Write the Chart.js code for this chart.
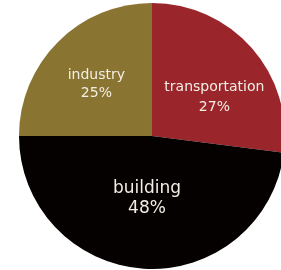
<!DOCTYPE html>
<html>
<head>
<meta charset="utf-8">
<script src="https://cdn.jsdelivr.net/npm/chart.js@4/dist/chart.umd.min.js"></script>
<style>
html,body{margin:0;padding:0;background:#fff;overflow:hidden;width:281px;height:270px;}
#wrap{position:relative;width:290px;height:270px;}
</style>
</head>
<body>
<div id="wrap"><canvas id="c" width="290" height="270"></canvas></div>
<script>
const categories = ["transportation", "building", "industry"];
const shares = [27, 48, 25];
const sliceColors = ["#9a262c", "#050101", "#8a7432"];

const labelPlugin = {
  id: 'sliceLabels',
  afterDatasetsDraw(chart, args, opts) {
    const ctx = chart.ctx;
    const meta = chart.getDatasetMeta(0);
    meta.data.forEach((arc, i) => {
      const p = arc.getProps(['x','y','startAngle','endAngle','outerRadius'], true);
      const mid = (p.startAngle + p.endAngle) / 2 + opts.angleShift[i];
      const r = p.outerRadius * opts.radiusFrac[i];
      const cx = p.x + Math.cos(mid) * r;
      const cy = p.y + Math.sin(mid) * r;
      const fs = opts.fontSize[i];
      const g = opts.lineGap[i] / 2;
      ctx.save();
      ctx.fillStyle = opts.color;
      ctx.textAlign = 'center';
      ctx.textBaseline = 'middle';
      ctx.font = fs + 'px "DejaVu Sans", Verdana, sans-serif';
      ctx.fillText(categories[i], cx, cy - g);
      ctx.fillText(shares[i] + '%', cx, cy + g);
      ctx.restore();
    });
  }
};

new Chart(document.getElementById('c'), {
  type: 'pie',
  data: {
    labels: categories,
    datasets: [{
      data: shares,
      backgroundColor: sliceColors,
      borderWidth: 0
    }]
  },
  options: {
    responsive: false,
    animation: false,
    layout: { padding: { left: 19, right: 5, top: 3, bottom: 1 } },
    plugins: {
      legend: { display: false },
      tooltip: { enabled: false },
      sliceLabels: {
        color: '#f2eee4',
        fontSize: [14, 17, 14],
        lineGap: [20, 20, 18],
        radiusFrac: [0.55, 0.47, 0.57],
        angleShift: [0.173, 0.017, -0.038]
      }
    }
  },
  plugins: [labelPlugin]
});
</script>
</body>
</html>
